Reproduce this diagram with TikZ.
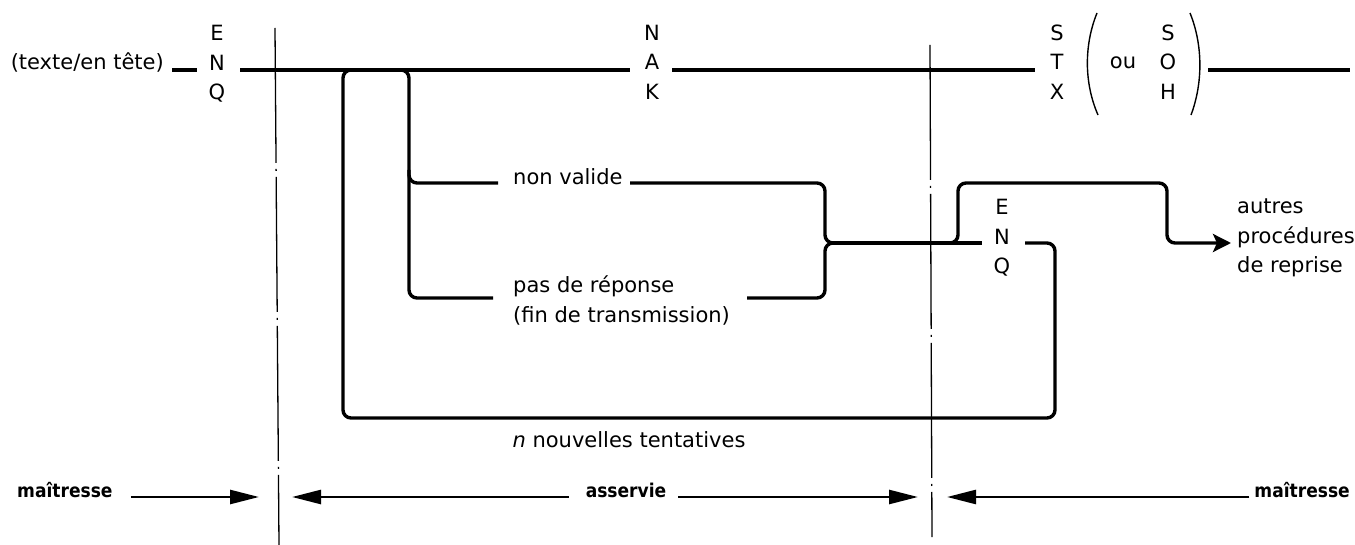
\documentclass[tikz,border=0pt]{standalone}
\usepackage{fontspec}
\setmainfont{DejaVu Sans}
\newfontfamily\condfont{DejaVu Sans Condensed}
\usetikzlibrary{arrows.meta}
\begin{document}
\begin{tikzpicture}[x=1pt,y=-1pt,
  wire/.style={line width=3.4pt, rounded corners=8pt},
  axisline/.style={line width=1.3pt, dash pattern=on 135pt off 6pt on 2pt off 6pt},
  lbl/.style={font=\fontsize{21}{29.5}\selectfont, inner sep=0pt, align=center},
  blbl/.style={font=\condfont\bfseries\fontsize{19}{22}\selectfont, inner sep=0pt},
  barrow/.style={line width=2.6pt, -{Triangle[length=29pt,width=14pt]}},
]
\useasboundingbox (0,0) rectangle (1355,545);

% labels
\node[lbl, anchor=base east] (txt) at (164,70) {(texte/en tête)};
\node[lbl] (enq1) at (217,64) {E\\N\\Q};
\node[lbl] (nak) at (652,62) {N\\A\\K};
\node[lbl] (stx) at (1057,62) {S\\T\\X};
\node[lbl] (ou) at (1123,63) {ou};
\node[lbl] (soh) at (1168,62) {S\\O\\H};
\node[lbl, anchor=base west] (nv) at (513,185) {non valide};
\node[lbl, align=left, anchor=north west] (pr) at (513,276) {pas de réponse\\(fin de transmission)};
\node[lbl] (enq2) at (1002,238) {E\\N\\Q};
\node[lbl, align=left, anchor=west] (autres) at (1237,238) {autres\\procédures\\de reprise};
\node[lbl, anchor=base] (nt) at (629,447) {\textit{n} nouvelles tentatives};
\node[blbl, anchor=base west] (m1) at (17,497) {maîtresse};
\node[blbl, anchor=base] (as) at (626,497) {asservie};
\node[blbl, anchor=base east] (m2) at (1350,497) {maîtresse};

% parentheses
\draw[line width=1.4pt] (1097,13) .. controls (1084,45) and (1084,83) .. (1098,115);
\draw[line width=1.4pt] (1190,13) .. controls (1203,45) and (1203,83) .. (1191,115);

% main line
\coordinate (a1) at (240,70);
\coordinate (a2) at (630,70);
\coordinate (a3) at (672,70);
\coordinate (a4) at (1035,70);
\coordinate (a5) at (1208,70);
\coordinate (a6) at (1350,70);
\draw[wire] ([xshift=8pt]txt.base east) -- ([xshift=33pt]txt.base east);
\draw[wire] (a1) -- (a2);
\draw[wire] (a3) -- (a4);
\draw[wire] (a5) -- (a6);

% retry loop and branches
\coordinate (e2r) at (1025,243);
\coordinate (e2l) at (982,243);
\draw[wire] (e2r) -- (1055,243) -- (1055,418) -- (343,418) -- (343,70) -- (358,70);
\draw[wire] (394,70) -- (409,70) -- (409,298) -- (493,298);
\draw[wire] (409,170) -- (409,183) -- (498,183);
\draw[wire] (630,183) -- (825,183) -- (825,243) -- (840,243);
\draw[wire] (747,298) -- (825,298) -- (825,243) -- (840,243);
\draw[wire] (830,243) -- (e2l);
\draw[wire, -{Stealth[length=18pt,width=18pt,inset=4pt]}] (944,243) -- (958,243) -- (958,183) -- (1167,183) -- (1167,243) -- ([xshift=-6pt]autres.west |- e2r);

% separators
\draw[axisline] (275,28) -- (279,545);
\draw[axisline] (930,45) -- (932,537);

% bottom arrows
\coordinate (t1) at (259,497);
\coordinate (t2) at (292,497);
\coordinate (t3) at (918,497);
\coordinate (t4) at (947,497);
\draw[barrow] ([xshift=18pt]m1.base east) -- (t1);
\draw[barrow] ([xshift=-17pt]as.base west) -- (t2);
\draw[barrow] ([xshift=12pt]as.base east) -- (t3);
\draw[barrow] ([xshift=-5pt]m2.base west) -- (t4);
\end{tikzpicture}
\end{document}
